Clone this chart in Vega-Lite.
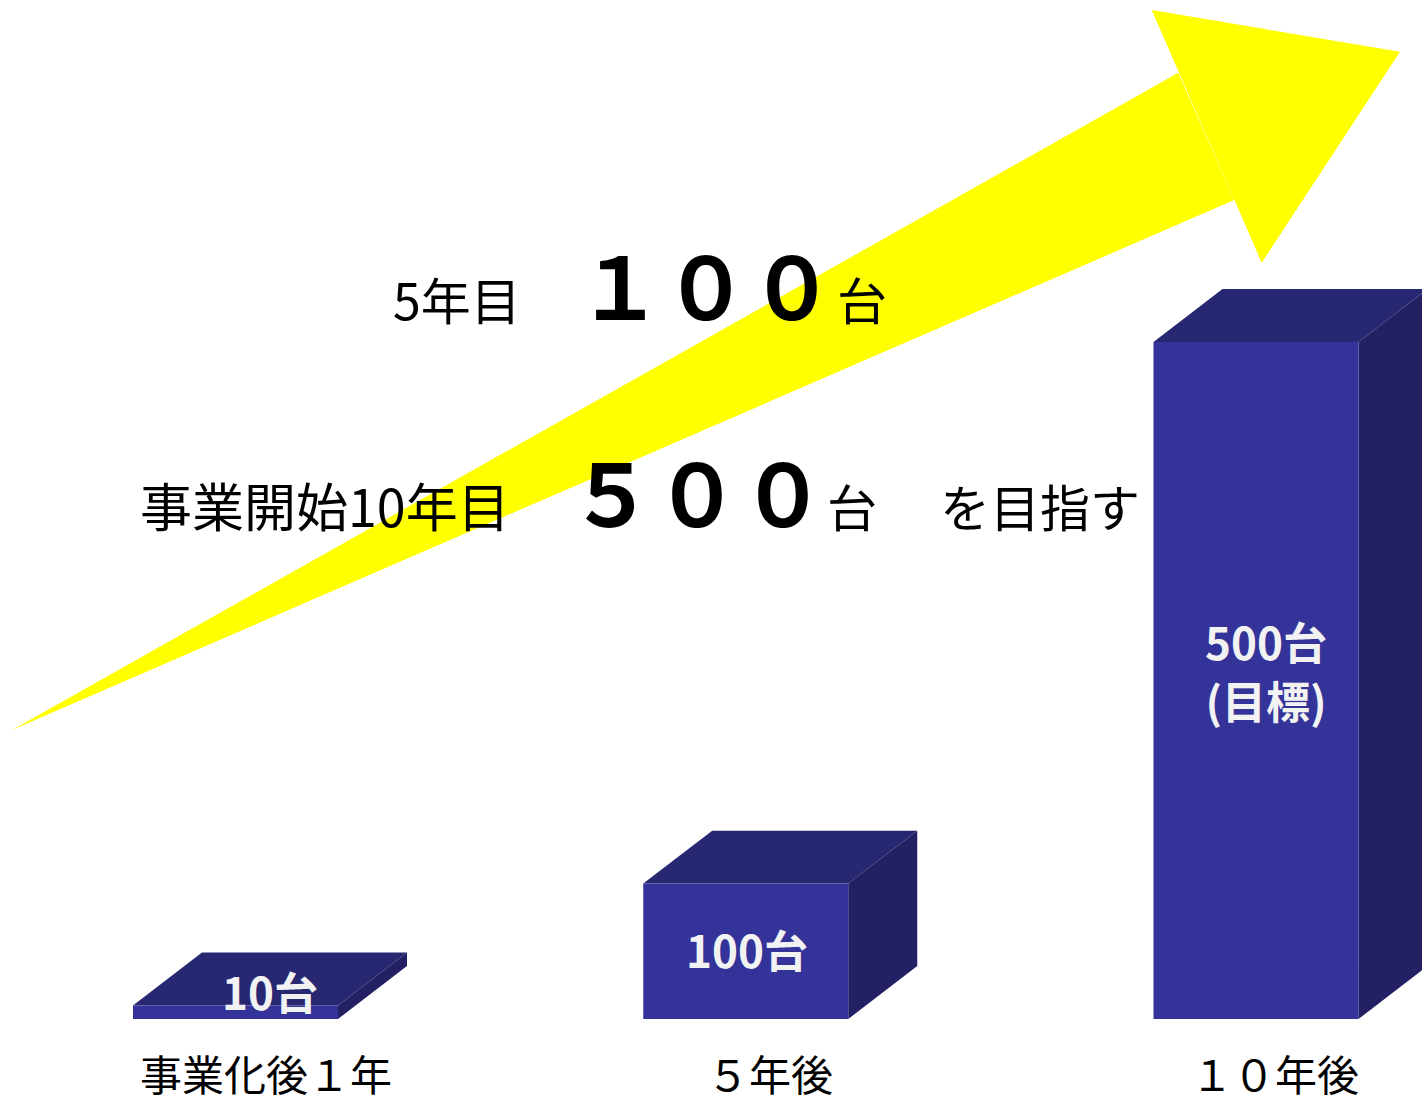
{
  "$schema": "https://vega.github.io/schema/vega-lite/v6.json",
  "width": 1422,
  "height": 1103,
  "padding": 0,
  "autosize": {"type": "none"},
  "background": "#ffffff",
  "config": {"view": {"stroke": null}, "text": {"font": "Noto Sans CJK JP"}},
  "datasets": {
    "arrowShaft": [
      {"x": -0.4380, "top": 213.4, "bottom": 213.4},
      {"x": 1.8477, "top": 698.9, "bottom": 586.9},
      {"x": 1.9575, "top": 604.9, "bottom": 604.9}
    ],
    "arrowHead": [
      {"x": 1.7956, "top": 745.2, "bottom": 745.2},
      {"x": 2.0112, "top": 731.5, "bottom": 558.6},
      {"x": 2.2822, "top": 714.4, "bottom": 714.4}
    ],
    "bars": [
      {"category": "事業化後１年", "left": -0.2009, "right": 0.2009, "value": 10},
      {"category": "５年後", "left": 0.7991, "right": 1.2009, "value": 100},
      {"category": "１０年後", "left": 1.7991, "right": 2.2009, "value": 500}
    ],
    "topFaces": [
      {"category": "事業化後１年", "y": 10, "x": -0.2009, "x2": 0.2009},
      {"category": "事業化後１年", "y": 49.1, "x": -0.0657, "x2": 0.3361},
      {"category": "５年後", "y": 100, "x": 0.7991, "x2": 1.2009},
      {"category": "５年後", "y": 139.1, "x": 0.9343, "x2": 1.3361},
      {"category": "１０年後", "y": 500, "x": 1.7991, "x2": 2.2009},
      {"category": "１０年後", "y": 539.1, "x": 1.9343, "x2": 2.3361}
    ],
    "sideFaces": [
      {"category": "事業化後１年", "x": 0.2009, "y": 0, "y2": 10},
      {"category": "事業化後１年", "x": 0.3361, "y": 39.1, "y2": 49.1},
      {"category": "５年後", "x": 1.2009, "y": 0, "y2": 100},
      {"category": "５年後", "x": 1.3361, "y": 39.1, "y2": 139.1},
      {"category": "１０年後", "x": 2.2009, "y": 0, "y2": 500},
      {"category": "１０年後", "x": 2.3361, "y": 39.1, "y2": 539.1}
    ],
    "headline": [
      {"x": 0.3087, "y": 516.2, "text": "5年目"},
      {"x": 1.1788, "y": 516.2, "text": "台"},
      {"x": 1.1592, "y": 363.4, "text": "台"},
      {"x": 1.3807, "y": 363.4, "text": "を目指す"}
    ],
    "headlineLeft": [
      {"x": -0.1872, "y": 363.4, "text": "事業開始10年目"}
    ],
    "headlineBig": [
      {"x": 0.6693, "y": 516.2, "text": "１００"},
      {"x": 0.6516, "y": 363.4, "text": "５００"}
    ],
    "barLabels": [
      {"x": 0.0676, "y": 6.6, "text": ["10台"]},
      {"x": 1.0024, "y": 37.7, "text": ["100台"]},
      {"x": 2.0196, "y": 265.1, "text": ["500台", "(目標)"]}
    ],
    "categoryLabels": [
      {"x": 0.0598, "y": -53.2, "text": "事業化後１年"},
      {"x": 1.0475, "y": -53.2, "text": "５年後"},
      {"x": 2.0372, "y": -53.2, "text": "１０年後"}
    ]
  },
  "layer": [
    {
      "data": {"name": "arrowShaft"},
      "mark": {"type": "area", "color": "#ffff00", "orient": "vertical", "clip": true},
      "encoding": {
        "x": {"field": "x", "type": "quantitative", "scale": {"domain": [-0.4615, 2.3253], "nice": false, "zero": false}, "axis": null},
        "y": {"field": "top", "type": "quantitative", "scale": {"domain": [-62.04, 752.59], "nice": false, "zero": false}, "axis": null},
        "y2": {"field": "bottom"}
      }
    },
    {
      "data": {"name": "arrowHead"},
      "mark": {"type": "area", "color": "#ffff00", "orient": "vertical", "clip": true},
      "encoding": {
        "x": {"field": "x", "type": "quantitative", "scale": {"domain": [-0.4615, 2.3253], "nice": false, "zero": false}, "axis": null},
        "y": {"field": "top", "type": "quantitative", "scale": {"domain": [-62.04, 752.59], "nice": false, "zero": false}, "axis": null},
        "y2": {"field": "bottom"}
      }
    },
    {
      "data": {"name": "topFaces"},
      "mark": {"type": "area", "color": "#272772", "orient": "horizontal", "opacity": 1, "clip": true},
      "encoding": {
        "y": {"field": "y", "type": "quantitative", "scale": {"domain": [-62.04, 752.59], "nice": false, "zero": false}, "axis": null},
        "x": {"field": "x", "type": "quantitative", "scale": {"domain": [-0.4615, 2.3253], "nice": false, "zero": false}, "axis": null},
        "x2": {"field": "x2"},
        "detail": {"field": "category"}
      }
    },
    {
      "data": {"name": "sideFaces"},
      "mark": {"type": "area", "color": "#232164", "orient": "vertical", "opacity": 1, "clip": true},
      "encoding": {
        "x": {"field": "x", "type": "quantitative", "scale": {"domain": [-0.4615, 2.3253], "nice": false, "zero": false}, "axis": null},
        "y": {"field": "y2", "type": "quantitative", "scale": {"domain": [-62.04, 752.59], "nice": false, "zero": false}, "axis": null},
        "y2": {"field": "y"},
        "detail": {"field": "category"}
      }
    },
    {
      "data": {"name": "bars"},
      "mark": {"type": "rect", "color": "#333399", "clip": true},
      "encoding": {
        "x": {"field": "left", "type": "quantitative", "scale": {"domain": [-0.4615, 2.3253], "nice": false, "zero": false}, "axis": null},
        "x2": {"field": "right"},
        "y": {"field": "value", "type": "quantitative", "scale": {"domain": [-62.04, 752.59], "nice": false, "zero": false}, "axis": null},
        "y2": {"datum": 0}
      }
    },
    {
      "data": {"name": "headline"},
      "mark": {"type": "text", "align": "left", "baseline": "alphabetic", "fontSize": 50, "color": "#000000", "font": "Noto Sans CJK JP"},
      "encoding": {
        "x": {"field": "x", "type": "quantitative", "scale": {"domain": [-0.4615, 2.3253], "nice": false, "zero": false}, "axis": null},
        "y": {"field": "y", "type": "quantitative", "scale": {"domain": [-62.04, 752.59], "nice": false, "zero": false}, "axis": null},
        "text": {"field": "text"}
      }
    },
    {
      "data": {"name": "headlineLeft"},
      "mark": {"type": "text", "align": "left", "baseline": "alphabetic", "fontSize": 52, "color": "#000000", "font": "Noto Sans CJK JP"},
      "encoding": {
        "x": {"field": "x", "type": "quantitative", "scale": {"domain": [-0.4615, 2.3253], "nice": false, "zero": false}, "axis": null},
        "y": {"field": "y", "type": "quantitative", "scale": {"domain": [-62.04, 752.59], "nice": false, "zero": false}, "axis": null},
        "text": {"field": "text"}
      }
    },
    {
      "data": {"name": "headlineBig"},
      "mark": {"type": "text", "align": "left", "baseline": "alphabetic", "fontSize": 86, "fontWeight": "bold", "color": "#000000", "font": "Noto Sans CJK JP"},
      "encoding": {
        "x": {"field": "x", "type": "quantitative", "scale": {"domain": [-0.4615, 2.3253], "nice": false, "zero": false}, "axis": null},
        "y": {"field": "y", "type": "quantitative", "scale": {"domain": [-62.04, 752.59], "nice": false, "zero": false}, "axis": null},
        "text": {"field": "text"}
      }
    },
    {
      "data": {"name": "barLabels"},
      "mark": {"type": "text", "align": "center", "baseline": "alphabetic", "fontSize": 44, "lineHeight": 59, "fontWeight": "bold", "color": "#f2f2f2", "font": "Noto Sans CJK JP"},
      "encoding": {
        "x": {"field": "x", "type": "quantitative", "scale": {"domain": [-0.4615, 2.3253], "nice": false, "zero": false}, "axis": null},
        "y": {"field": "y", "type": "quantitative", "scale": {"domain": [-62.04, 752.59], "nice": false, "zero": false}, "axis": null},
        "text": {"field": "text"}
      }
    },
    {
      "data": {"name": "categoryLabels"},
      "mark": {"type": "text", "align": "center", "baseline": "alphabetic", "fontSize": 42, "color": "#000000", "font": "Noto Sans CJK JP"},
      "encoding": {
        "x": {"field": "x", "type": "quantitative", "scale": {"domain": [-0.4615, 2.3253], "nice": false, "zero": false}, "axis": null},
        "y": {"field": "y", "type": "quantitative", "scale": {"domain": [-62.04, 752.59], "nice": false, "zero": false}, "axis": null},
        "text": {"field": "text"}
      }
    }
  ]
}
